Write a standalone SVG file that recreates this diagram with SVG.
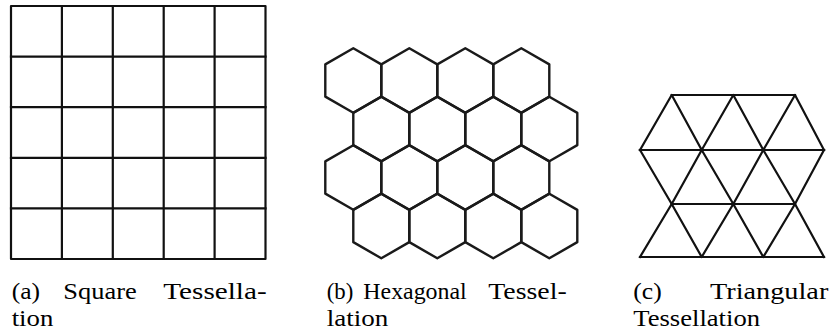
<svg xmlns="http://www.w3.org/2000/svg" xmlns:xlink="http://www.w3.org/1999/xlink" width="830" height="336" viewBox="0 0 830 336">
<style>
.ln{fill:none;stroke:#111;stroke-width:2.2;stroke-linejoin:round;stroke-linecap:square}
.hx{fill:none;stroke:#1a1a1a;stroke-width:2.4;stroke-linejoin:round}
.cap{font-family:"Liberation Serif","Times New Roman",serif;font-size:23px;fill:#000}
</style>
<defs>
<polygon id="hex" points="0,-32.3 28,-16.15 28,16.15 0,32.3 -28,16.15 -28,-16.15"/>
</defs>
<rect width="830" height="336" fill="#fff"/>
<g id="square">
<rect class="ln" x="11" y="6" width="254.5" height="253"/>
<path class="ln" d="M61.9,6V259M112.8,6V259M163.7,6V259M214.6,6V259M11,56.6H265.5M11,107.2H265.5M11,157.8H265.5M11,208.4H265.5"/>
</g>
<g id="hexagonal" class="hx">
<use xlink:href="#hex" x="353.3" y="80.5"/>
<use xlink:href="#hex" x="409.3" y="80.5"/>
<use xlink:href="#hex" x="465.3" y="80.5"/>
<use xlink:href="#hex" x="521.3" y="80.5"/>
<use xlink:href="#hex" x="381.3" y="129"/>
<use xlink:href="#hex" x="437.3" y="129"/>
<use xlink:href="#hex" x="493.3" y="129"/>
<use xlink:href="#hex" x="549.3" y="129"/>
<use xlink:href="#hex" x="353.3" y="177.5"/>
<use xlink:href="#hex" x="409.3" y="177.5"/>
<use xlink:href="#hex" x="465.3" y="177.5"/>
<use xlink:href="#hex" x="521.3" y="177.5"/>
<use xlink:href="#hex" x="381.3" y="226"/>
<use xlink:href="#hex" x="437.3" y="226"/>
<use xlink:href="#hex" x="493.3" y="226"/>
<use xlink:href="#hex" x="549.3" y="226"/>
</g>
<g id="triangular">
<path class="ln" d="M671.7,95H795M640,150H824M671.7,204H795M640,257H824"/>
<polyline class="ln" points="640,150 671.7,95 701.7,150 733.3,95 763.3,150 795,95 824,150"/>
<polyline class="ln" points="640,150 671.7,204 701.7,150 733.3,204 763.3,150 795,204 824,150"/>
<polyline class="ln" points="640,257 671.7,204 701.7,257 733.3,204 763.3,257 795,204 824,257"/>
</g>
<g id="captions" class="cap">
<text x="11.7" y="298.5" textLength="28.3" lengthAdjust="spacingAndGlyphs">(a)</text>
<text x="63.3" y="298.5" textLength="73.4" lengthAdjust="spacingAndGlyphs">Square</text>
<text x="163.3" y="298.5" textLength="103.4" lengthAdjust="spacingAndGlyphs">Tessella-</text>
<text x="11.7" y="325.5" textLength="41.6" lengthAdjust="spacingAndGlyphs">tion</text>
<text x="326.7" y="298.5" textLength="26.6" lengthAdjust="spacingAndGlyphs">(b)</text>
<text x="363.3" y="298.5" textLength="103.4" lengthAdjust="spacingAndGlyphs">Hexagonal</text>
<text x="488.3" y="298.5" textLength="78.4" lengthAdjust="spacingAndGlyphs">Tessel-</text>
<text x="326.7" y="325.5" textLength="61.6" lengthAdjust="spacingAndGlyphs">lation</text>
<text x="633.3" y="298.5" textLength="28.4" lengthAdjust="spacingAndGlyphs">(c)</text>
<text x="710" y="298.5" textLength="118.3" lengthAdjust="spacingAndGlyphs">Triangular</text>
<text x="633.3" y="325.5" textLength="126.7" lengthAdjust="spacingAndGlyphs">Tessellation</text>
</g>
</svg>
